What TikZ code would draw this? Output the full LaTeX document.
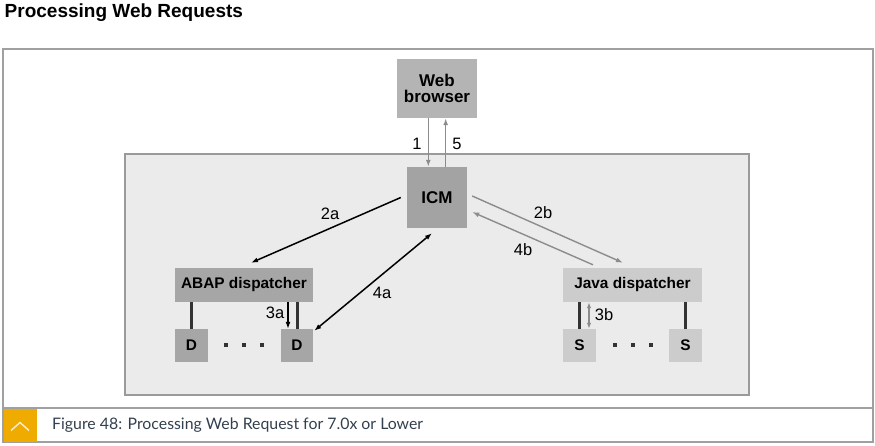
\documentclass[tikz,border=0pt]{standalone}
\usepackage{fontspec}
\setmainfont{Liberation Sans}
\newfontfamily\capfont{Lato}
\usetikzlibrary{arrows.meta}
\definecolor{framegray}{HTML}{A0A0A0}
\definecolor{innerfill}{HTML}{EBEBEB}
\definecolor{innerdraw}{HTML}{9A9A9A}
\definecolor{browserfill}{HTML}{B4B4B4}
\definecolor{icmfill}{HTML}{A3A3A3}
\definecolor{abapfill}{HTML}{A6A6A6}
\definecolor{javafill}{HTML}{CCCCCC}
\definecolor{arrowgray}{HTML}{8C8C8C}
\definecolor{linedark}{HTML}{333333}
\definecolor{sapgold}{HTML}{F0AB00}
\definecolor{captext}{HTML}{32404E}
\tikzset{
  box/.style={rectangle, inner sep=0pt, align=center, font=\bfseries\fontsize{15.4}{16}\selectfont},
  bigbox/.style={box, font=\bfseries\fontsize{17}{18}\selectfont},
  lbl/.style={inner sep=0pt, font=\fontsize{16.5}{17}\selectfont},
  blackarrow/.style={draw=black, line width=1.5pt, -{Latex[length=7pt,width=5pt]}},
  grayarrow/.style={draw=arrowgray, line width=1.4pt, -{Latex[length=7pt,width=5pt]}},
  connline/.style={draw=linedark, line width=3pt}
}
\begin{document}
\begin{tikzpicture}[x=1pt,y=-1pt]
\useasboundingbox (0,0) rectangle (875,446);
% title
\node[anchor=base west, inner sep=0pt, font=\bfseries\fontsize{19}{20}\selectfont] (title) at (4.5,17.3) {Processing Web Requests};
% outer frame
\draw[framegray, line width=1.5pt] (3,49) rectangle (873,442);
\draw[framegray, line width=1.5pt] (3,408) -- (873,408);
\fill[sapgold] (4,409) rectangle (37,441.5);
\draw[white, opacity=0.8, line width=1.4pt] (11,430.5) -- (20,422.5) -- (29,430.5);
\node[anchor=base west, inner sep=0pt, text=captext, font=\capfont\fontsize{15.85}{16}\selectfont] (caption) at (52,429.5) {Figure 48: Processing Web Request for 7.0x or Lower};
% inner box
\draw[innerdraw, fill=innerfill, line width=1.2pt] (125,154) rectangle (749,395);
% nodes
\node[bigbox, fill=browserfill, minimum width=80pt, minimum height=59pt] (browser) at (437,88.5) {Web\\[-2pt]browser};
\node[bigbox, fill=icmfill, minimum width=60pt, minimum height=61pt] (icm) at (437,197.5) {ICM};
\node[box, fill=abapfill, minimum width=138pt, minimum height=34pt] (abap) at (244,285) {ABAP dispatcher};
\node[box, fill=abapfill, minimum width=33pt, minimum height=33pt] (d1) at (191.5,345.5) {D};
\node[box, fill=abapfill, minimum width=32pt, minimum height=33pt] (d2) at (297,345.5) {D};
\node[box, fill=javafill, minimum width=139pt, minimum height=34pt] (java) at (632.5,285) {Java dispatcher};
\node[box, fill=javafill, minimum width=33pt, minimum height=33pt] (s1) at (579.5,345.5) {S};
\node[box, fill=javafill, minimum width=33pt, minimum height=33pt] (s2) at (685.5,345.5) {S};
% dots
\foreach \dx in {226,244,262} { \fill[linedark] (\dx-2,343) rectangle (\dx+2,347); }
\foreach \dx in {615,633,651} { \fill[linedark] (\dx-2,343) rectangle (\dx+2,347); }
% vertical connections
\draw[connline] (d1.north) -- (d1.north |- abap.south);
\draw[connline] (d2.north) -- (d2.north |- abap.south);
\draw[connline] (s1.north) -- (s1.north |- java.south);
\draw[connline] (s2.north) -- (s2.north |- java.south);
% arrows
\draw[grayarrow] ([xshift=-8.7pt]browser.south) -- ([xshift=-8.7pt]icm.north);
\draw[grayarrow] ([xshift=8.7pt]icm.north) -- ([xshift=8.7pt]browser.south);
\draw[blackarrow] ([xshift=-6pt]icm.west) -- ([shift={(7pt,5pt)}]abap.north);
\draw[blackarrow, {Latex[length=7pt,width=5pt]}-{Latex[length=7pt,width=5pt]}] ([shift={(1pt,-2pt)}]d2.north east) -- ([shift={(-5pt,-5pt)}]icm.south);
\draw[grayarrow] ([shift={(5pt,1.5pt)}]icm.east) -- ([shift={(-9.5pt,5pt)}]java.north);
\draw[grayarrow] ([shift={(-39.5pt,3pt)}]java.north) -- ([shift={(5pt,-14.5pt)}]icm.east);
\draw[blackarrow, line width=1.2pt] ([xshift=-9pt]d2.north |- abap.south) -- ([xshift=-9pt]d2.north);
\draw[grayarrow, line width=1.2pt, {Latex[length=6pt,width=4.5pt]}-{Latex[length=6pt,width=4.5pt]}] ([xshift=9.5pt]s1.north |- java.south) -- ([xshift=9.5pt]s1.north);
% labels
\node[lbl] (l1) at (417,143.5) {1};
\node[lbl] (l5) at (457,143.5) {5};
\node[lbl] (l2a) at (330,214) {2a};
\node[lbl] (l4a) at (382,293) {4a};
\node[lbl] (l3a) at (275,313) {3a};
\node[lbl] (l2b) at (543,213) {2b};
\node[lbl] (l4b) at (523,250) {4b};
\node[lbl] (l3b) at (604,315) {3b};
\end{tikzpicture}
\end{document}
